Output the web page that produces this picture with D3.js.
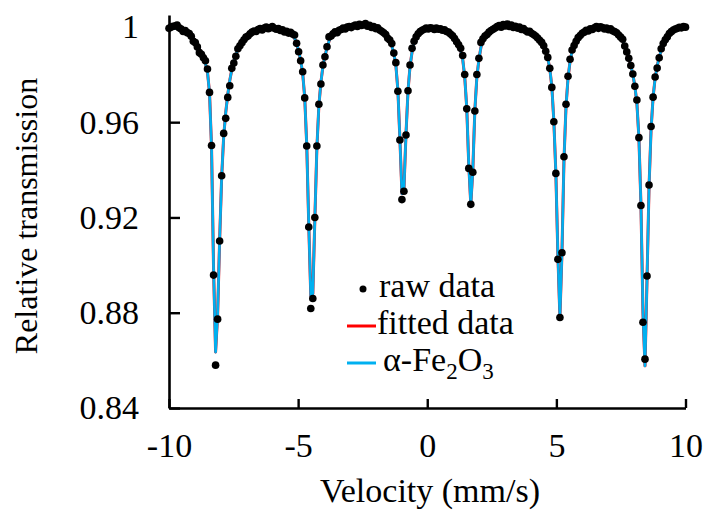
<!DOCTYPE html>
<html>
<head>
<meta charset="utf-8">
<script src="https://cdn.jsdelivr.net/npm/d3@7"></script>
<style>
  body { margin: 0; background: #ffffff; }
  svg { display: block; }
</style>
</head>
<body>
<svg id="chart" width="704" height="510"></svg>
<script>
// ---- data ----
const channelCount = 256;             // evenly spaced velocity channels
const velocityRange = [-10, 10];      // mm/s

const rawData = [
  0.9994, 0.9999, 1.0003, 1.0004, 1.0008, 0.9996, 0.9991, 0.9981, 0.9985, 0.9976, 0.9972, 0.9961, 0.9940, 0.9934, 0.9916, 0.9892,
  0.9885, 0.9870, 0.9858, 0.9823, 0.9725, 0.9502, 0.8958, 0.8580, 0.8773, 0.9101, 0.9375, 0.9553, 0.9616, 0.9704, 0.9753, 0.9826,
  0.9848, 0.9877, 0.9908, 0.9921, 0.9934, 0.9946, 0.9957, 0.9962, 0.9971, 0.9978, 0.9983, 0.9981, 0.9989, 0.9993, 0.9987, 0.9995,
  0.9999, 0.9992, 0.9996, 1.0001, 0.9994, 0.9990, 0.9993, 0.9985, 0.9988, 0.9979, 0.9982, 0.9974, 0.9977, 0.9970, 0.9966, 0.9931,
  0.9896, 0.9858, 0.9812, 0.9702, 0.9500, 0.9160, 0.8818, 0.8860, 0.9200, 0.9500, 0.9675, 0.9760, 0.9840, 0.9875, 0.9917, 0.9958,
  0.9962, 0.9971, 0.9979, 0.9976, 0.9986, 0.9989, 0.9995, 0.9991, 0.9999, 1.0002, 0.9997, 1.0004, 1.0008, 1.0002, 1.0011, 1.0006,
  1.0009, 1.0014, 1.0003, 1.0007, 0.9998, 1.0002, 0.9993, 0.9996, 0.9987, 0.9982, 0.9975, 0.9968, 0.9952, 0.9945, 0.9930, 0.9890,
  0.9850, 0.9730, 0.9525, 0.9275, 0.9310, 0.9546, 0.9732, 0.9840, 0.9910, 0.9940, 0.9958, 0.9971, 0.9980, 0.9986, 0.9990, 0.9995,
  0.9991, 0.9996, 0.9994, 0.9989, 0.9995, 0.9990, 0.9992, 0.9986, 0.9988, 0.9981, 0.9978, 0.9970, 0.9963, 0.9951, 0.9938, 0.9925,
  0.9910, 0.9880, 0.9800, 0.9656, 0.9406, 0.9255, 0.9390, 0.9647, 0.9800, 0.9868, 0.9935, 0.9950, 0.9962, 0.9968, 0.9978, 0.9985,
  0.9990, 0.9995, 1.0001, 1.0006, 0.9999, 1.0010, 1.0004, 1.0012, 1.0002, 1.0008, 0.9998, 1.0003, 0.9995, 0.9999, 0.9989, 0.9993,
  0.9985, 0.9979, 0.9982, 0.9973, 0.9968, 0.9962, 0.9953, 0.9944, 0.9935, 0.9921, 0.9898, 0.9872, 0.9826, 0.9746, 0.9602, 0.9385,
  0.9024, 0.8780, 0.9052, 0.9455, 0.9675, 0.9793, 0.9864, 0.9903, 0.9922, 0.9940, 0.9955, 0.9964, 0.9973, 0.9978, 0.9986, 0.9983,
  0.9992, 0.9989, 0.9996, 1.0001, 0.9994, 1.0000, 0.9997, 0.9991, 0.9995, 0.9988, 0.9992, 0.9984, 0.9980, 0.9975, 0.9966, 0.9957,
  0.9948, 0.9920, 0.9895, 0.9868, 0.9838, 0.9802, 0.9751, 0.9693, 0.9535, 0.9250, 0.8760, 0.8605, 0.8954, 0.9336, 0.9582, 0.9705,
  0.9790, 0.9827, 0.9870, 0.9908, 0.9930, 0.9946, 0.9958, 0.9972, 0.9980, 0.9987, 0.9991, 0.9994, 0.9998, 0.9996, 1.0001, 0.9999
];

const fittedData = [
  0.9996, 0.9996, 0.9995, 0.9994, 0.9993, 0.9991, 0.9989, 0.9986, 0.9982, 0.9977, 0.9971, 0.9963, 0.9953, 0.9941, 0.9926, 0.9908,
  0.9888, 0.9866, 0.9845, 0.9810, 0.9725, 0.9495, 0.8985, 0.8635, 0.8790, 0.9105, 0.9370, 0.9540, 0.9640, 0.9715, 0.9775, 0.9820,
  0.9855, 0.9882, 0.9905, 0.9922, 0.9936, 0.9947, 0.9956, 0.9964, 0.9971, 0.9976, 0.9981, 0.9984, 0.9987, 0.9989, 0.9991, 0.9993,
  0.9994, 0.9995, 0.9995, 0.9995, 0.9994, 0.9993, 0.9991, 0.9989, 0.9986, 0.9983, 0.9979, 0.9975, 0.9970, 0.9962, 0.9952, 0.9932,
  0.9900, 0.9860, 0.9805, 0.9705, 0.9505, 0.9170, 0.8870, 0.8880, 0.9190, 0.9490, 0.9670, 0.9768, 0.9835, 0.9878, 0.9912, 0.9940,
  0.9958, 0.9970, 0.9978, 0.9984, 0.9988, 0.9992, 0.9995, 0.9997, 0.9999, 1.0000, 1.0001, 1.0002, 1.0003, 1.0003, 1.0004, 1.0004,
  1.0004, 1.0003, 1.0002, 1.0001, 0.9999, 0.9997, 0.9994, 0.9991, 0.9987, 0.9982, 0.9975, 0.9966, 0.9955, 0.9940, 0.9920, 0.9888,
  0.9840, 0.9735, 0.9530, 0.9300, 0.9320, 0.9550, 0.9730, 0.9835, 0.9895, 0.9932, 0.9954, 0.9968, 0.9978, 0.9984, 0.9988, 0.9990,
  0.9991, 0.9992, 0.9992, 0.9992, 0.9991, 0.9990, 0.9988, 0.9986, 0.9983, 0.9979, 0.9974, 0.9967, 0.9958, 0.9947, 0.9932, 0.9918,
  0.9898, 0.9865, 0.9790, 0.9660, 0.9420, 0.9255, 0.9400, 0.9650, 0.9790, 0.9862, 0.9915, 0.9938, 0.9954, 0.9966, 0.9975, 0.9982,
  0.9987, 0.9992, 0.9996, 0.9999, 1.0001, 1.0002, 1.0003, 1.0003, 1.0002, 1.0001, 0.9999, 0.9997, 0.9995, 0.9992, 0.9989, 0.9986,
  0.9982, 0.9978, 0.9974, 0.9969, 0.9963, 0.9956, 0.9948, 0.9939, 0.9928, 0.9914, 0.9895, 0.9868, 0.9825, 0.9750, 0.9605, 0.9385,
  0.9040, 0.8780, 0.9050, 0.9440, 0.9665, 0.9785, 0.9855, 0.9898, 0.9926, 0.9945, 0.9958, 0.9967, 0.9974, 0.9979, 0.9983, 0.9986,
  0.9989, 0.9991, 0.9993, 0.9994, 0.9995, 0.9995, 0.9994, 0.9993, 0.9991, 0.9989, 0.9986, 0.9982, 0.9977, 0.9971, 0.9963, 0.9953,
  0.9940, 0.9922, 0.9900, 0.9872, 0.9838, 0.9800, 0.9752, 0.9680, 0.9535, 0.9255, 0.8800, 0.8577, 0.8940, 0.9330, 0.9570, 0.9705,
  0.9785, 0.9835, 0.9872, 0.9900, 0.9922, 0.9940, 0.9954, 0.9965, 0.9974, 0.9981, 0.9986, 0.9990, 0.9993, 0.9995, 0.9997, 0.9998
];

// single-component fit: the alpha-Fe2O3 sextet coincides with the total fit
const alphaFe2O3 = fittedData.slice();

const xTicks = [-10, -5, 0, 5, 10];
const xTickLabels = ["-10", "-5", "0", "5", "10"];
const yTicks = [0.84, 0.88, 0.92, 0.96, 1];
const yTickLabels = ["0.84", "0.88", "0.92", "0.96", "1"];
const legendLabels = ["raw data", "fitted data", "α-Fe2O3"];
const seriesColors = { fitted: "#ff0000", alpha: "#00b0f0", raw: "#000000" };

// ---- build ----
const FONT = "Liberation Serif";
const FS = 34;
const velocities = d3.range(channelCount).map(i =>
  velocityRange[0] + i * (velocityRange[1] - velocityRange[0]) / (channelCount - 1));
const rawPoints = velocities.map((v, i) => ({ v, t: rawData[i] }));
const fitPoints = velocities.map((v, i) => ({ v, t: fittedData[i] }));
const alphaPoints = velocities.map((v, i) => ({ v, t: alphaFe2O3[i] }));

const svg = d3.select("#chart");

const x = d3.scaleLinear().domain([-10, 10]).range([169, 685.5]);
const y = d3.scaleLinear().domain([0.84, 1.005]).range([408, 15]);

// axes
const yAxis = d3.axisLeft(y).tickValues(yTicks)
  .tickFormat((d, i) => yTickLabels[i])
  .tickSizeInner(-11).tickSizeOuter(0).tickPadding(30);
const xAxis = d3.axisBottom(x).tickValues(xTicks)
  .tickFormat((d, i) => xTickLabels[i])
  .tickSizeInner(-9).tickSizeOuter(0).tickPadding(25);

const gy = svg.append("g").attr("transform", `translate(${x(-10)},0)`).call(yAxis);
const gx = svg.append("g").attr("transform", `translate(0,${y(0.84)})`).call(xAxis);
[gx, gy].forEach(g => {
  g.attr("font-family", FONT).attr("font-size", FS);
  g.select(".domain").attr("stroke", "#000").attr("stroke-width", 2.6);
  g.selectAll(".tick line").attr("stroke", "#000").attr("stroke-width", 2.4);
  g.selectAll(".tick text").attr("fill", "#000")
    .attr("font-family", FONT).attr("font-size", FS);
});

// lines
const line = d3.line().x(d => x(d.v)).y(d => y(d.t));
svg.append("path").datum(fitPoints)
  .attr("fill", "none").attr("stroke", seriesColors.fitted)
  .attr("stroke-width", 3).attr("stroke-linejoin", "round").attr("d", line);
svg.append("path").datum(alphaPoints)
  .attr("fill", "none").attr("stroke", seriesColors.alpha)
  .attr("stroke-width", 2.7).attr("stroke-linejoin", "round").attr("d", line);

// raw points
svg.append("g").selectAll("circle").data(rawPoints).join("circle")
  .attr("cx", d => x(d.v)).attr("cy", d => y(d.t)).attr("r", 3.8)
  .attr("fill", seriesColors.raw);

// axis titles
svg.append("text").attr("x", 430).attr("y", 502)
  .attr("text-anchor", "middle").attr("font-family", FONT).attr("font-size", FS)
  .text("Velocity (mm/s)");
svg.append("text").attr("transform", "translate(37,216) rotate(-90)")
  .attr("text-anchor", "middle").attr("font-family", FONT).attr("font-size", 32)
  .text("Relative transmission");

// legend
const lg = svg.append("g").attr("font-family", FONT).attr("font-size", FS);
lg.append("circle").attr("cx", 363).attr("cy", 289).attr("r", 3.5).attr("fill", seriesColors.raw);
lg.append("text").attr("x", 379).attr("y", 297).attr("font-family", FONT).text(legendLabels[0]);
lg.append("line").attr("x1", 347).attr("x2", 376).attr("y1", 326).attr("y2", 326)
  .attr("stroke", seriesColors.fitted).attr("stroke-width", 3);
lg.append("text").attr("x", 377).attr("y", 334).attr("font-family", FONT).text(legendLabels[1]);
lg.append("line").attr("x1", 347).attr("x2", 376).attr("y1", 363).attr("y2", 363)
  .attr("stroke", seriesColors.alpha).attr("stroke-width", 3);
const at = lg.append("text").attr("x", 383).attr("y", 371).attr("font-family", FONT);
// "α-Fe2O3" with subscripts
const parts = legendLabels[2].match(/[^0-9]+|[0-9]+/g);
parts.forEach((p, i) => {
  const isSub = /^[0-9]+$/.test(p);
  const prevSub = i > 0 && /^[0-9]+$/.test(parts[i - 1]);
  at.append("tspan").text(p)
    .attr("font-size", isSub ? 23 : FS)
    .attr("dy", isSub ? 8 : (prevSub ? -8 : 0));
});
</script>
</body>
</html>
